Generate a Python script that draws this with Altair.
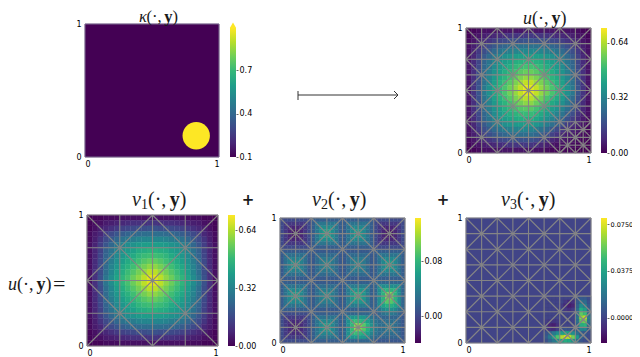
import altair as alt
import pandas as pd

W, H = 624, 349
OFF = 8
VIRIDIS = ["#440154", "#482878", "#3e4989", "#31688e", "#26828e", "#1f9e89", "#35b779", "#6ece58", "#b5de2b", "#fde725"]
MESH = "#858585"

# ---- values (rows run top to bottom) ----
KAPPA_LOW, KAPPA_HIGH = 0.1, 1.0
CIRCLE_X, CIRCLE_Y = [0.83], [0.16]

# v1: upper-left quadrant (x 100), the picture is mirror symmetric
v1_quadrant = [
    [0, 1, 1, 2, 2, 2, 3, 3, 3, 3, 3, 4],
    [1, 2, 3, 5, 6, 7, 8, 9, 10, 10, 10, 11],
    [1, 3, 6, 8, 10, 12, 14, 15, 16, 17, 17, 18],
    [2, 5, 8, 13, 16, 19, 21, 23, 24, 25, 26, 26],
    [2, 6, 11, 16, 20, 24, 27, 29, 30, 32, 33, 33],
    [3, 7, 13, 19, 24, 29, 32, 35, 37, 39, 40, 40],
    [3, 8, 14, 22, 27, 32, 36, 39, 41, 44, 45, 46],
    [3, 8, 15, 23, 28, 34, 38, 41, 44, 47, 49, 50],
    [3, 9, 16, 24, 30, 36, 40, 44, 47, 50, 53, 55],
    [3, 9, 16, 25, 32, 38, 43, 46, 50, 54, 57, 60],
    [3, 10, 17, 26, 33, 40, 45, 49, 53, 57, 61, 65],
    [3, 10, 18, 28, 35, 42, 47, 51, 56, 60, 65, 69],
]
v1_rows = [r + r[::-1] for r in v1_quadrant]
v1_rows = v1_rows + v1_rows[::-1]

# u (x 100)
u_rows = [
    [0, 1, 2, 3, 3, 3, 4, 4, 4, 4, 4, 5, 5, 4, 4, 4, 4, 4, 3, 3, 3, 2, 1, 0],
    [1, 3, 4, 6, 7, 8, 9, 10, 11, 11, 11, 12, 12, 11, 11, 11, 10, 9, 8, 7, 6, 4, 3, 1],
    [2, 4, 7, 9, 11, 13, 15, 16, 17, 18, 18, 19, 19, 18, 18, 17, 16, 15, 13, 11, 9, 7, 4, 2],
    [3, 6, 9, 14, 17, 20, 22, 24, 25, 26, 27, 27, 27, 27, 26, 25, 24, 22, 20, 17, 14, 9, 6, 3],
    [3, 7, 12, 17, 21, 25, 28, 30, 31, 33, 34, 34, 34, 34, 33, 31, 30, 28, 25, 21, 17, 12, 7, 3],
    [4, 8, 14, 20, 25, 30, 33, 36, 38, 40, 41, 41, 41, 41, 40, 38, 36, 33, 30, 25, 20, 14, 8, 4],
    [4, 9, 15, 23, 28, 33, 37, 40, 42, 45, 46, 47, 47, 46, 45, 42, 40, 37, 33, 28, 23, 15, 9, 4],
    [4, 9, 16, 24, 29, 35, 39, 42, 45, 48, 50, 51, 51, 50, 48, 45, 42, 39, 35, 29, 24, 16, 9, 4],
    [4, 10, 17, 25, 31, 37, 41, 45, 48, 51, 54, 56, 56, 54, 51, 48, 45, 41, 37, 31, 25, 17, 10, 4],
    [4, 10, 17, 26, 33, 39, 44, 47, 51, 55, 58, 61, 61, 58, 55, 51, 47, 44, 39, 33, 26, 17, 10, 4],
    [4, 11, 18, 27, 34, 41, 46, 50, 54, 58, 62, 66, 66, 62, 58, 54, 50, 46, 41, 34, 27, 18, 11, 4],
    [4, 11, 19, 29, 36, 43, 48, 52, 57, 61, 66, 70, 70, 66, 61, 57, 52, 48, 43, 36, 29, 19, 11, 4],
    [4, 11, 19, 29, 36, 43, 48, 52, 57, 61, 66, 70, 70, 66, 61, 57, 52, 48, 43, 36, 29, 19, 11, 4],
    [4, 11, 18, 27, 34, 41, 46, 50, 54, 58, 62, 65, 65, 61, 57, 52, 48, 44, 39, 32, 25, 17, 10, 4],
    [4, 10, 17, 26, 33, 39, 44, 47, 51, 55, 57, 60, 60, 56, 53, 48, 44, 40, 36, 30, 23, 15, 9, 3],
    [4, 10, 17, 25, 31, 37, 41, 45, 48, 51, 53, 54, 54, 51, 48, 44, 40, 36, 32, 26, 20, 13, 8, 3],
    [4, 9, 16, 24, 29, 35, 39, 42, 45, 47, 49, 49, 49, 47, 44, 40, 36, 32, 28, 22, 17, 11, 7, 3],
    [4, 9, 15, 23, 28, 33, 37, 40, 42, 44, 45, 45, 45, 43, 40, 36, 32, 28, 24, 18, 13, 9, 5, 2],
    [4, 8, 14, 20, 25, 30, 33, 36, 38, 39, 40, 40, 40, 38, 35, 31, 27, 23, 18, 13, 10, 7, 4, 2],
    [3, 7, 12, 17, 21, 25, 28, 30, 31, 32, 33, 33, 32, 30, 27, 24, 20, 16, 12, 9, 7, 5, 3, 1],
    [3, 6, 9, 14, 17, 20, 22, 24, 25, 26, 26, 26, 26, 24, 21, 18, 14, 11, 8, 6, 5, 3, 2, 1],
    [2, 4, 7, 9, 11, 13, 15, 16, 17, 18, 18, 18, 18, 16, 14, 11, 8, 6, 5, 4, 3, 2, 1, 1],
    [1, 3, 4, 6, 7, 8, 9, 10, 11, 11, 11, 12, 11, 10, 8, 6, 4, 3, 3, 2, 2, 1, 1, 0],
    [0, 1, 2, 3, 3, 3, 4, 4, 4, 4, 4, 4, 4, 3, 3, 2, 1, 1, 1, 1, 1, 0, 0, 0],
]

# v2 (x 1000), 8 rows per block
R1a = [1] * 8 + [14] * 8 + [14] * 8 + [1] * 8
R1b = [1, -10, -10, -10, -10, -10, -10, 1, 14, 32, 32, 32, 32, 32, 32, 14, 14, 30, 30, 30, 30, 30, 30, 14, 1, -10, -10, -10, -10, -10, -10, 1]
R1c = [1, -10, -20, -20, -20, -20, -10, 1, 14, 32, 49, 49, 49, 49, 32, 14, 14, 30, 46, 46, 46, 46, 30, 14, 1, -10, -20, -20, -20, -20, -10, 1]
R1d = [1, -10, -20, -30, -30, -20, -10, 1, 14, 32, 49, 67, 67, 49, 32, 14, 14, 30, 46, 62, 62, 46, 30, 14, 1, -10, -20, -30, -30, -20, -10, 1]
R2a = [12] * 8 + [11] * 8 + [11] * 8 + [14] * 8
R2b = [12, 27, 27, 27, 27, 27, 27, 12, 11, 23, 23, 23, 23, 23, 23, 11, 11, 23, 23, 23, 23, 23, 23, 11, 14, 30, 30, 30, 30, 30, 30, 14]
R2c = [12, 27, 40, 40, 40, 40, 27, 12, 11, 23, 34, 34, 34, 34, 23, 11, 11, 23, 34, 34, 34, 34, 23, 11, 14, 30, 46, 46, 46, 46, 30, 14]
R2d = [12, 27, 40, 54, 54, 40, 27, 12, 11, 23, 34, 45, 45, 34, 23, 11, 11, 23, 34, 45, 45, 34, 23, 11, 14, 30, 46, 62, 62, 46, 30, 14]
R3a = [14] * 8 + [12] * 8 + [15] * 8 + [20] * 8
R3b = [14, 30, 30, 30, 30, 30, 30, 14, 12, 25, 25, 25, 25, 25, 25, 12, 15, 36, 36, 36, 36, 36, 36, 15, 20, 49, 49, 49, 49, 49, 49, 20]
R3c = [14, 30, 46, 46, 46, 46, 30, 14, 12, 25, 37, 37, 37, 37, 25, 12, 15, 36, 56, 56, 56, 56, 36, 15, 20, 49, 78, 78, 78, 78, 49, 20]
R3d = [14, 30, 46, 62, 62, 46, 30, 14, 12, 25, 37, 49, 49, 37, 25, 12, 15, 36, 56, 76, 76, 56, 36, 15, 20, 49, 78, 106, 106, 78, 49, 20]
R3c2 = R3c[:24] + [20, 49, 78, 95, 95, 78, 49, 20]
R3b2 = R3b[:24] + [20, 49, 65, 75, 75, 65, 49, 20]
R3a2 = R3a[:24] + [20, 30, 45, 52, 52, 45, 30, 20]
R4a = [2] * 8 + [14] * 8 + [20] * 8 + [10, 20, 30, 35, 35, 30, 20, 10]
R4b = [2, -8, -8, -8, -8, -8, -8, 2, 14, 30, 30, 30, 30, 30, 30, 14, 20, 51, 55, 60, 60, 55, 48, 30, 22, 19, 19, 19, 19, 19, 19, 10]
R4c = [2, -8, -17, -17, -17, -17, -8, 2, 14, 30, 46, 46, 46, 46, 30, 14, 20, 51, 81, 85, 80, 75, 62, 42, 30, 24, 27, 27, 27, 27, 19, 10]
R4d = [2, -8, -17, -26, -26, -17, -8, 2, 14, 30, 46, 62, 62, 46, 30, 14, 20, 51, 81, 111, 111, 95, 75, 52, 35, 26, 27, 36, 36, 27, 19, 10]
R4a2 = [2] * 8 + [14] * 8 + [20] * 8 + [10] * 8
v2_rows = [
    R1a, R1b, R1c, R1d, R1d, R1c, R1b, R1a,
    R2a, R2b, R2c, R2d, R2d, R2c, R2b, R2a,
    R3a, R3b, R3c, R3d, R3d, R3c2, R3b2, R3a2,
    R4a, R4b, R4c, R4d, R4d, R4c, R4b, R4a2,
]

# v3 (x 1000): background value, then the lower-right corner at 1/32 resolution
v3_background = 0
v3_corner_rows = [
    [0, 0, 0, 0, 0, 0, 0, 0, 5, 8, 8, 3],
    [0, 0, 0, 0, 0, -4, -8, -6, 8, 18, 15, 5],
    [0, 0, 0, 0, -3, -8, -12, -10, 10, 28, 24, 8],
    [0, 0, 0, 0, 0, -4, -6, -3, 14, 42, 36, 12],
    [0, 0, 0, 0, 0, 0, 0, 0, 16, 55, 48, 15],
    [0, 0, 0, 0, 0, 0, 0, 0, 18, 62, 72, 20],
    [-2, -4, -5, -3, 0, 0, 0, 0, 16, 55, 60, 17],
    [-4, -10, -12, -6, 0, 0, 0, 0, 12, 42, 44, 12],
    [-2, -6, -8, -2, 5, 6, 5, 4, 8, 24, 25, 8],
    [5, 12, 20, 28, 36, 40, 38, 28, 16, 10, 8, 3],
    [8, 20, 36, 52, 68, 74, 72, 58, 34, 12, 6, 2],
    [4, 12, 20, 30, 38, 42, 40, 32, 18, 6, 3, 1],
]

# colour-bar limits and tick labels
KAPPA_BAR, KAPPA_TICKS = (0.1, 0.99), [0.1, 0.4, 0.7]
U_BAR, U_TICKS = (0.0, 0.727), [0.0, 0.32, 0.64]
V1_BAR, V1_TICKS = (0.0, 0.723), [0.0, 0.32, 0.64]
V2_BAR, V2_TICKS = (-0.039, 0.1425), [0.0, 0.08]
V3_BAR, V3_TICKS = (-0.02, 0.0798), [0.0, 0.0375, 0.075]

# ---- layout (page pixels of the reference) ----
P_KAPPA = dict(l=85, r=219, t=24, b=157, cl=230, cr=236, ct=28, cb=157)
P_U = dict(l=466, r=591, t=28, b=153, cl=601, cr=607, ct=28, cb=153)
P_V1 = dict(l=87, r=218, t=215, b=346, cl=228, cr=235, ct=215, cb=346)
P_V2 = dict(l=280, r=405, t=218, b=343, cl=415, cr=421, ct=218, cb=343)
P_V3 = dict(l=466, r=591, t=218, b=343, cl=601, cr=607, ct=218, cb=343)


def cells(rows, scale, x0=0.0, y1=1.0, step=None):
    n = len(rows)
    step = step if step is not None else 1.0 / n
    out = []
    for r, row in enumerate(rows):
        for c, val in enumerate(row):
            out.append(dict(x0=x0 + c * step, x1=x0 + (c + 1) * step,
                            y1=y1 - r * step, y0=y1 - (r + 1) * step, v=val * scale))
    return pd.DataFrame(out)


def xs(p):
    return alt.Scale(domain=[0, 1], range=[p["l"] - OFF, p["r"] - OFF], nice=False, zero=False)


def ys(p):
    return alt.Scale(domain=[0, 1], range=[p["b"] - OFF, p["t"] - OFF], nice=False, zero=False)


AXIS = dict(values=[0, 1], format="d", domain=False, ticks=False, grid=False, title=None,
            labelFont="DejaVu Sans", labelFontSize=8, labelColor="#000000")


def heat(df, p, domain, with_axes=True):
    ax = alt.Axis(orient="bottom", offset=p["b"] - OFF - H, labelPadding=3, **AXIS) if with_axes else None
    ay = alt.Axis(orient="left", offset=-(p["l"] - OFF), labelPadding=4, **AXIS) if with_axes else None
    return alt.Chart(df).mark_rect(strokeWidth=0.4).encode(
        x=alt.X("x0:Q", scale=xs(p), axis=ax),
        x2="x1:Q",
        y=alt.Y("y0:Q", scale=ys(p), axis=ay),
        y2="y1:Q",
        color=alt.Color("v:Q", scale=alt.Scale(scheme="viridis", domain=list(domain), clamp=True), legend=None),
        stroke=alt.Stroke("v:Q", scale=alt.Scale(scheme="viridis", domain=list(domain), clamp=True), legend=None),
    )


def segs_base():
    out = []
    for k in range(0, 9):
        t = k * 0.125
        out.append((t, 0, t, 1))
        out.append((0, t, 1, t))
    for i in range(4):
        for j in range(4):
            a, b = i * 0.25, j * 0.25
            out.append((a, b, a + 0.25, b + 0.25))
            out.append((a, b + 0.25, a + 0.25, b))
    return out


def segs_coarse():
    out = []
    for t in (0, 0.25, 0.5, 0.75, 1):
        out.append((t, 0, t, 1))
        out.append((0, t, 1, t))
    out += [(0, 0, 1, 1), (0, 1, 1, 0), (0.5, 0, 1, 0.5), (1, 0.5, 0.5, 1), (0.5, 1, 0, 0.5), (0, 0.5, 0.5, 0)]
    return out


def segs_corner():
    out = []
    for i in range(2):
        for j in range(2):
            a, b = 0.75 + i * 0.125, j * 0.125
            out.append((a, b, a + 0.125, b + 0.125))
            out.append((a, b + 0.125, a + 0.125, b))
    return out


def segs_fine():
    out = []
    for t in (0.8125, 0.9375):
        out.append((t, 0, t, 0.25))
    for t in (0.0625, 0.1875):
        out.append((0.75, t, 1, t))
    return out


def mesh(segs, p):
    df = pd.DataFrame(segs, columns=["a", "b", "c", "d"])
    return alt.Chart(df).mark_rule(color=MESH, strokeWidth=1.1).encode(
        x=alt.X("a:Q", scale=xs(p), axis=None),
        x2="c:Q",
        y=alt.Y("b:Q", scale=ys(p), axis=None),
        y2="d:Q",
    )


def colorbar(p, bar, ticks, fmt, label_size=8):
    df = pd.DataFrame({"lo": [bar[0]], "hi": [bar[1]]})
    stops = [{"offset": i / (len(VIRIDIS) - 1), "color": c} for i, c in enumerate(VIRIDIS)]
    grad = {"gradient": "linear", "x1": 0, "x2": 0, "y1": 1, "y2": 0, "stops": stops}
    return alt.Chart(df).mark_rect(color=grad).encode(
        x=alt.value(p["cl"] - OFF),
        x2=alt.value(p["cr"] - OFF),
        y=alt.Y("lo:Q",
                scale=alt.Scale(domain=list(bar), range=[p["cb"] - OFF, p["ct"] - OFF], nice=False, zero=False),
                axis=alt.Axis(orient="right", offset=p["cr"] - OFF - W, values=ticks, format=fmt, domain=False,
                              grid=False, title=None, tickSize=2, tickWidth=0.6, tickColor="#000000",
                              labelFont="DejaVu Sans", labelFontSize=label_size, labelColor="#000000", labelPadding=1)),
        y2="hi:Q",
    )


def text(s, x, y, size=20, style="normal", weight="normal", font="Liberation Serif", align="left", baseline="alphabetic"):
    return alt.Chart(pd.DataFrame({"t": [s]})).mark_text(
        font=font, fontSize=size, fontStyle=style, fontWeight=weight, align=align, baseline=baseline, color="#1a1a1a"
    ).encode(x=alt.value(x - OFF), y=alt.value(y - OFF), text="t:N")


def title(sym, x, y, sub=None, size=20):
    k = size / 20
    parts = [text(sym, x, y, size=size, style="italic")]
    w = (9 if sym != "u" else 10) * k
    if sub:
        parts.append(text(sub, x + w, y + 3, size=14))
        w += 7
    parts.append(text("(·, ", x + w, y, size=size))
    parts.append(text("y", x + w + 21.7 * k, y, size=size, weight="bold"))
    parts.append(text(")", x + w + 31.7 * k, y, size=size))
    return parts


# ---- panels ----
kappa_bg = heat(pd.DataFrame([dict(x0=0, x1=1, y0=0, y1=1, v=KAPPA_LOW)]), P_KAPPA, (KAPPA_LOW, KAPPA_HIGH))
kappa_frame = alt.Chart(pd.DataFrame([dict(x0=0, x1=1, y0=0, y1=1)])).mark_rect(
    fillOpacity=0, stroke="#7d6f92", strokeWidth=1).encode(
    x=alt.X("x0:Q", scale=xs(P_KAPPA), axis=None), x2="x1:Q",
    y=alt.Y("y0:Q", scale=ys(P_KAPPA), axis=None), y2="y1:Q")
kappa_circle = alt.Chart(pd.DataFrame({"cx": CIRCLE_X, "cy": CIRCLE_Y})).mark_point(
    filled=True, shape="circle", size=750, color="#fde725", opacity=1).encode(
    x=alt.X("cx:Q", scale=xs(P_KAPPA), axis=None),
    y=alt.Y("cy:Q", scale=ys(P_KAPPA), axis=None))
kappa_cap = alt.Chart(pd.DataFrame({"cap": [1.009]})).mark_point(
    filled=True, shape="triangle-up", size=40, color="#fde725", opacity=1).encode(
    x=alt.value((P_KAPPA["cl"] + P_KAPPA["cr"]) / 2 - OFF),
    y=alt.Y("cap:Q", scale=alt.Scale(domain=list(KAPPA_BAR), range=[P_KAPPA["cb"] - OFF, P_KAPPA["ct"] - OFF],
                                     nice=False, zero=False), axis=None))

v1_df = cells(v1_rows, 0.01)
v2_df = cells(v2_rows, 0.001)
u_df = cells(u_rows, 0.01)
v3_bg = pd.DataFrame([dict(x0=0, x1=1, y0=0, y1=1, v=v3_background)])
v3_df = cells(v3_corner_rows, 0.001, x0=0.625, y1=0.375, step=1 / 32)

layers = [
    kappa_bg, kappa_circle, kappa_frame, colorbar(P_KAPPA, KAPPA_BAR, KAPPA_TICKS, ".1f"), kappa_cap,
    heat(u_df, P_U, U_BAR), mesh(segs_base() + segs_corner() + segs_fine(), P_U), colorbar(P_U, U_BAR, U_TICKS, ".2f"),
    heat(v1_df, P_V1, V1_BAR), mesh(segs_coarse(), P_V1), colorbar(P_V1, V1_BAR, V1_TICKS, ".2f"),
    heat(v2_df, P_V2, V2_BAR), mesh(segs_base(), P_V2), colorbar(P_V2, V2_BAR, V2_TICKS, ".2f"),
    heat(v3_bg, P_V3, V3_BAR), heat(v3_df, P_V3, V3_BAR, with_axes=False),
    mesh(segs_base() + segs_corner(), P_V3), colorbar(P_V3, V3_BAR, V3_TICKS, ".4f", label_size=6.5),
]

# titles and signs
layers += title("κ", 139, 22, size=16.5)
layers += title("u", 523, 24, size=18)
layers += title("v", 132, 206, sub="1")
layers += title("v", 312, 206, sub="2")
layers += title("v", 501, 206, sub="3")
layers += title("u", 8, 290, size=18)
layers.append(text("=", 53, 291, size=22))
layers.append(text("+", 248, 200, size=15, weight="bold", font="DejaVu Sans", align="center", baseline="middle"))
layers.append(text("+", 443, 200, size=15, weight="bold", font="DejaVu Sans", align="center", baseline="middle"))

# map arrow
ARROW = "#333333"
layers.append(alt.Chart().mark_rule(color=ARROW, strokeWidth=1).encode(
    x=alt.value(298 - OFF), x2=alt.value(398 - OFF), y=alt.value(95 - OFF), y2=alt.value(95 - OFF)))
layers.append(alt.Chart().mark_rule(color=ARROW, strokeWidth=1).encode(
    x=alt.value(298 - OFF), x2=alt.value(298 - OFF), y=alt.value(91 - OFF), y2=alt.value(100 - OFF)))
layers.append(alt.Chart().mark_rule(color=ARROW, strokeWidth=1).encode(
    x=alt.value(394 - OFF), x2=alt.value(398 - OFF), y=alt.value(91 - OFF), y2=alt.value(95 - OFF)))
layers.append(alt.Chart().mark_rule(color=ARROW, strokeWidth=1).encode(
    x=alt.value(394 - OFF), x2=alt.value(398 - OFF), y=alt.value(99 - OFF), y2=alt.value(95 - OFF)))

chart = (
    alt.layer(*layers)
    .resolve_scale(x="independent", y="independent", color="independent", stroke="independent")
    .resolve_axis(x="independent", y="independent")
    .properties(width=W, height=H, padding=0, autosize=alt.AutoSizeParams(type="none", contains="content"))
    .configure_view(stroke=None)
)

chart.save("out.html", embed_options={"renderer": "svg", "actions": False})
